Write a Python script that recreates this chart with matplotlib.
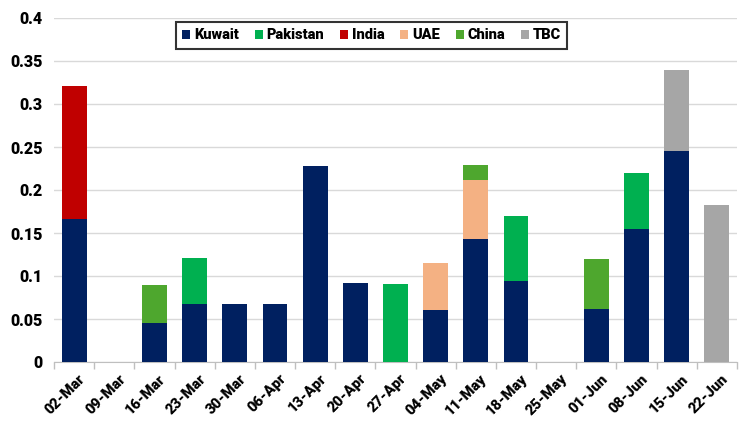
import matplotlib
matplotlib.use("Agg")
import matplotlib.pyplot as plt
import numpy as np

categories = ["02-Mar", "09-Mar", "16-Mar", "23-Mar", "30-Mar", "06-Apr", "13-Apr", "20-Apr",
              "27-Apr", "04-May", "11-May", "18-May", "25-May", "01-Jun", "08-Jun", "15-Jun", "22-Jun"]
kuwait   = [0.166, 0, 0.045, 0.067, 0.067, 0.067, 0.228, 0.092, 0, 0.061, 0.143, 0.094, 0, 0.062, 0.155, 0.245, 0]
pakistan = [0, 0, 0, 0.054, 0, 0, 0, 0, 0.091, 0, 0, 0.076, 0, 0, 0.065, 0, 0]
india    = [0.155, 0, 0, 0, 0, 0, 0, 0, 0, 0, 0, 0, 0, 0, 0, 0, 0]
uae      = [0, 0, 0, 0, 0, 0, 0, 0, 0, 0.054, 0.069, 0, 0, 0, 0, 0, 0]
china    = [0, 0, 0.045, 0, 0, 0, 0, 0, 0, 0, 0.017, 0, 0, 0.058, 0, 0, 0]
tbc      = [0, 0, 0, 0, 0, 0, 0, 0, 0, 0, 0, 0, 0, 0, 0, 0.094, 0.183]

series = [("Kuwait", kuwait, "#002060"), ("Pakistan", pakistan, "#00B050"),
          ("India", india, "#C00000"), ("UAE", uae, "#F4B183"),
          ("China", china, "#4EA72E"), ("TBC", tbc, "#A6A6A6")]

plt.rcParams['font.family'] = ['Roboto', 'DejaVu Sans']
plt.rcParams['font.weight'] = 'heavy'

fig = plt.figure(figsize=(7.55, 4.25), dpi=100)
ax = fig.add_axes([54/755, 1-362/425, (737-54)/755, (362-18)/425])

x = np.arange(len(categories))
bottom = np.zeros(len(categories))
for name, vals, col in series:
    v = np.array(vals)
    ax.bar(x, v, 0.62, bottom=bottom, color=col, label=name, zorder=3)
    bottom += v

ax.set_xlim(-0.5, len(categories) - 0.5)
ax.set_ylim(0, 0.4)
ax.set_yticks(np.arange(0, 0.401, 0.05))
ax.set_yticklabels(["0", "0.05", "0.1", "0.15", "0.2", "0.25", "0.3", "0.35", "0.4"],
                   fontsize=11.5, fontweight='heavy')
ax.yaxis.grid(True, color="#D9D9D9", linewidth=1, zorder=0)
ax.tick_params(axis='y', length=0, pad=8)

ax.set_xticks(x + 0.1)
ax.set_xticklabels(categories, rotation=45, ha='right', rotation_mode='anchor',
                   fontsize=10.5, fontweight='heavy')
ax.tick_params(axis='x', which='major', length=0, pad=7)
ax.set_xticks(np.arange(-0.5, len(categories), 1), minor=True)
ax.tick_params(axis='x', which='minor', length=5, color="#BFBFBF", width=1)

for s in ["top", "right", "left"]:
    ax.spines[s].set_visible(False)
ax.spines["bottom"].set_color("#BFBFBF")

leg = ax.legend(loc='upper center', bbox_to_anchor=((371.5 - 54) / 683, 1.01), ncol=6, frameon=True,
                fancybox=False, edgecolor='black', handlelength=0.55,
                handleheight=0.55, handletextpad=0.25, columnspacing=1.1, borderpad=0.45,
                prop={'weight': 'heavy', 'size': 10.5})
leg.get_frame().set_linewidth(1.5)

fig.savefig("out.png", dpi=100)
